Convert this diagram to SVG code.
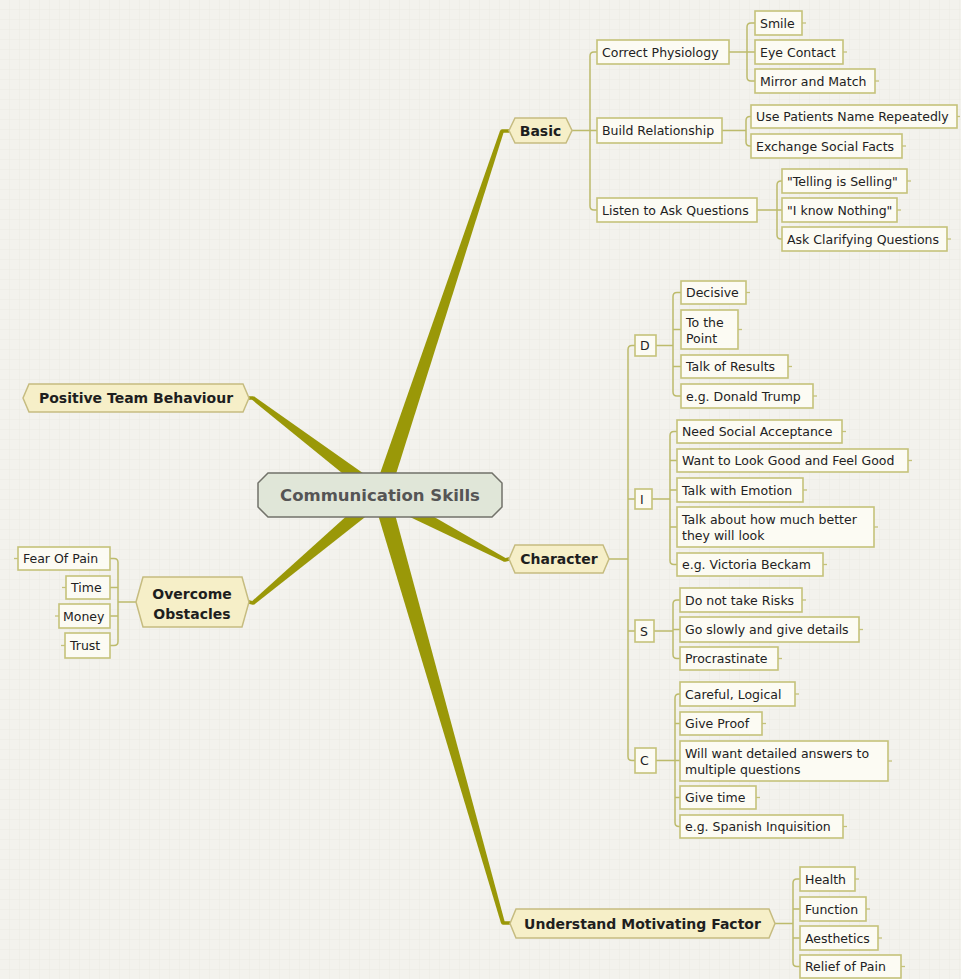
<svg xmlns="http://www.w3.org/2000/svg" width="961" height="979" viewBox="0 0 961 979">
<defs>
<pattern id="grid" width="10" height="10" patternUnits="userSpaceOnUse">
<rect width="10" height="10" fill="#f3f2ed"/>
<path d="M10 0V10M0 10H10" fill="none" stroke="#ebeae3" stroke-width="1"/>
</pattern>
<style>
.thick{fill:#9a9808;stroke:none}
.tend{fill:none;stroke:#9a9808;stroke-width:3.5;stroke-linecap:round}
.bus{fill:none;stroke:#bdbb6c;stroke-width:1.5}
.hex{fill:#f6efc8;stroke:#c6bc80;stroke-width:1.5}
.box{fill:#fcfbf3;stroke:#c5c27a;stroke-width:1.6}
.stub{stroke:#c5c27a;stroke-width:1.3}
.center{fill:#e0e6d8;stroke:#72726a;stroke-width:1.5}
.ct{font-family:"DejaVu Sans",Verdana,sans-serif;font-size:16.5px;font-weight:bold;fill:#555;text-anchor:middle}
.mt{font-family:"DejaVu Sans",Verdana,sans-serif;font-size:14px;font-weight:bold;fill:#1e1e1e;text-anchor:middle}
.st{font-family:"DejaVu Sans",Verdana,sans-serif;font-size:12.5px;fill:#222}
</style>
</defs>
<rect width="961" height="979" fill="url(#grid)"/>

<g id="connectors">
<polygon class="thick" points="388.6,497.5 503.9,131.6 500.1,130.4 373.4,492.5"/>
<path class="tend" d="M502 131H509"/>
<polygon class="thick" points="385.5,489 254.2,396.4 251.8,399.6 376.5,501"/>
<path class="tend" d="M253 398H249"/>
<polygon class="thick" points="377.5,501.6 504.1,561.8 505.9,558.2 384.5,488.4"/>
<path class="tend" d="M505 560L509 559"/>
<polygon class="thick" points="376.2,489.3 251.7,601.5 254.3,604.5 385.8,500.7"/>
<path class="tend" d="M253 603L249 602"/>
<polygon class="thick" points="372.8,497.3 501.1,923.5 504.9,922.5 389.2,492.7"/>
<path class="tend" d="M503 923H510"/>

<path class="bus" d="M572 130.5H597M597 52H594Q590 52 590 56V206Q590 210 594 210H597"/>
<path class="bus" d="M729 52H755M755 23H751Q747 23 747 27V77Q747 81 751 81H755"/>
<path class="bus" d="M722 130.5H746M751 116.5H750Q746 116.5 746 120.5V142Q746 146 750 146H751"/>
<path class="bus" d="M757 210H782M782 181H781Q777 181 777 185V235Q777 239 781 239H782"/>
<path class="bus" d="M609 559H628M635 345.5H632Q628 345.5 628 349.5V756.5Q628 760.5 632 760.5H635M628 499H635M628 631H635"/>
<path class="bus" d="M656 345.5H673M681 292.5H677Q673 292.5 673 296.5V392Q673 396 677 396H681M673 329.5H681M673 366.5H681"/>
<path class="bus" d="M652 499H670M677 431.5H674Q670 431.5 670 435.5V560.5Q670 564.5 674 564.5H677M670 460.5H677M670 490H677M670 527H677"/>
<path class="bus" d="M654 631H673M680 600H677Q673 600 673 604V654.5Q673 658.5 677 658.5H680M673 629.5H680"/>
<path class="bus" d="M656 760.5H680M680 694H679Q675 694 675 698V822.5Q675 826.5 679 826.5H680M675 723.5H680M675 797.5H680"/>
<path class="bus" d="M775 923.5H793M800 879H797Q793 879 793 883V962.5Q793 966.5 797 966.5H800M793 909H800M793 938H800"/>
<path class="bus" d="M136 602H118M110 558.5H114Q118 558.5 118 562.5V641.5Q118 645.5 114 645.5H110M118 587.5H110M118 616H110"/>
</g>

<g id="central">
<polygon class="center" points="268,473 492,473 502,483 502,507 492,517 268,517 258,507 258,483"/>
<text class="ct" x="380" y="501">Communication Skills</text>
</g>

<g id="basic">
<polygon class="hex" points="509,130.5 515,118 566,118 572,130.5 566,143 515,143"/>
<text class="mt" x="540.5" y="135.5">Basic</text>
</g>
<g id="character">
<polygon class="hex" points="509,559 515,545 603,545 609,559 603,573 515,573"/>
<text class="mt" x="559" y="564">Character</text>
</g>
<g id="understand">
<polygon class="hex" points="510,923.5 516,909 769,909 775,923.5 769,938 516,938"/>
<text class="mt" x="642.5" y="929">Understand Motivating Factor</text>
</g>
<g id="positive-team">
<polygon class="hex" points="23,398 29,384 243,384 249,398 243,412 29,412"/>
<text class="mt" x="136" y="403">Positive Team Behaviour</text>
</g>
<g id="overcome">
<polygon class="hex" points="136,602 143,577 242,577 249,602 242,627 143,627"/>
<text class="mt" x="192" y="599">Overcome</text>
<text class="mt" x="192" y="619">Obstacles</text>
</g>

<g id="correct-physiology"><rect class="box" x="597" y="40" width="132" height="24"/><text class="st" x="602" y="56.5">Correct Physiology</text></g>
<g id="build-relationship"><rect class="box" x="597" y="118" width="125" height="25"/><text class="st" x="602" y="135">Build Relationship</text></g>
<g id="listen"><rect class="box" x="597" y="198" width="160" height="24"/><text class="st" x="602" y="214.5">Listen to Ask Questions</text></g>
<g id="smile"><rect class="box" x="755" y="11" width="47" height="24"/><text class="st" x="760" y="27.5">Smile</text><path class="stub" d="M802 23H806"/></g>
<g id="eye-contact"><rect class="box" x="755" y="40" width="88" height="24"/><text class="st" x="760" y="56.5">Eye Contact</text><path class="stub" d="M843 52H847"/></g>
<g id="mirror"><rect class="box" x="755" y="69" width="120" height="24"/><text class="st" x="760" y="85.5">Mirror and Match</text><path class="stub" d="M875 81H879"/></g>
<g id="use-name"><rect class="box" x="751" y="105" width="206" height="23"/><text class="st" x="756" y="121">Use Patients Name Repeatedly</text><path class="stub" d="M957 116.5H960"/></g>
<g id="exchange"><rect class="box" x="751" y="134" width="151" height="24"/><text class="st" x="756" y="150.5">Exchange Social Facts</text><path class="stub" d="M902 146H906"/></g>
<g id="telling"><rect class="box" x="782" y="169" width="125" height="24"/><text class="st" x="787" y="185.5">"Telling is Selling"</text><path class="stub" d="M907 181H911"/></g>
<g id="know-nothing"><rect class="box" x="782" y="198" width="115" height="24"/><text class="st" x="787" y="214.5">"I know Nothing"</text><path class="stub" d="M897 210H901"/></g>
<g id="clarifying"><rect class="box" x="782" y="227" width="165" height="24"/><text class="st" x="787" y="243.5">Ask Clarifying Questions</text><path class="stub" d="M947 239H951"/></g>

<g id="d"><rect class="box" x="635" y="335" width="21" height="21"/><text class="st" x="640" y="350">D</text></g>
<g id="i"><rect class="box" x="635" y="489" width="17" height="20"/><text class="st" x="640" y="504">I</text></g>
<g id="s"><rect class="box" x="635" y="620" width="19" height="22"/><text class="st" x="640" y="635.5">S</text></g>
<g id="c"><rect class="box" x="635" y="748" width="21" height="25"/><text class="st" x="640" y="765">C</text></g>

<g id="decisive"><rect class="box" x="681" y="281" width="65" height="23"/><text class="st" x="686" y="297">Decisive</text><path class="stub" d="M746 292.5H750"/></g>
<g id="to-the-point"><rect class="box" x="681" y="310" width="57" height="39"/><text class="st" x="686" y="326.5">To the</text><text class="st" x="686" y="343">Point</text><path class="stub" d="M738 329.5H742"/></g>
<g id="talk-results"><rect class="box" x="681" y="355" width="107" height="23"/><text class="st" x="686" y="371">Talk of Results</text><path class="stub" d="M788 366.5H792"/></g>
<g id="trump"><rect class="box" x="681" y="384" width="132" height="24"/><text class="st" x="686" y="400.5">e.g. Donald Trump</text><path class="stub" d="M813 396H817"/></g>

<g id="social-acceptance"><rect class="box" x="677" y="420" width="165" height="23"/><text class="st" x="682" y="436">Need Social Acceptance</text><path class="stub" d="M842 431.5H846"/></g>
<g id="look-good"><rect class="box" x="677" y="449" width="231" height="23"/><text class="st" x="682" y="465">Want to Look Good and Feel Good</text><path class="stub" d="M908 460.5H912"/></g>
<g id="talk-emotion"><rect class="box" x="677" y="478" width="126" height="24"/><text class="st" x="682" y="494.5">Talk with Emotion</text><path class="stub" d="M803 490H807"/></g>
<g id="talk-better"><rect class="box" x="677" y="507" width="197" height="40"/><text class="st" x="682" y="523.5">Talk about how much better</text><text class="st" x="682" y="540">they will look</text><path class="stub" d="M874 527H878"/></g>
<g id="beckam"><rect class="box" x="677" y="553" width="146" height="23"/><text class="st" x="682" y="569">e.g. Victoria Beckam</text><path class="stub" d="M823 564.5H827"/></g>

<g id="risks"><rect class="box" x="680" y="588" width="122" height="24"/><text class="st" x="685" y="604.5">Do not take Risks</text><path class="stub" d="M802 600H806"/></g>
<g id="go-slowly"><rect class="box" x="680" y="617" width="179" height="25"/><text class="st" x="685" y="634">Go slowly and give details</text><path class="stub" d="M859 629.5H863"/></g>
<g id="procrastinate"><rect class="box" x="680" y="647" width="98" height="23"/><text class="st" x="685" y="663">Procrastinate</text><path class="stub" d="M778 658.5H782"/></g>

<g id="careful"><rect class="box" x="680" y="682" width="115" height="24"/><text class="st" x="685" y="698.5">Careful, Logical</text><path class="stub" d="M795 694H799"/></g>
<g id="give-proof"><rect class="box" x="680" y="712" width="82" height="23"/><text class="st" x="685" y="728">Give Proof</text><path class="stub" d="M762 723.5H766"/></g>
<g id="detailed"><rect class="box" x="680" y="741" width="208" height="40"/><text class="st" x="685" y="757.5">Will want detailed answers to</text><text class="st" x="685" y="774">multiple questions</text><path class="stub" d="M888 761H892"/></g>
<g id="give-time"><rect class="box" x="680" y="786" width="76" height="23"/><text class="st" x="685" y="802">Give time</text><path class="stub" d="M756 797.5H760"/></g>
<g id="spanish"><rect class="box" x="680" y="815" width="163" height="23"/><text class="st" x="685" y="831">e.g. Spanish Inquisition</text><path class="stub" d="M843 826.5H847"/></g>

<g id="health"><rect class="box" x="800" y="867" width="55" height="24"/><text class="st" x="805" y="883.5">Health</text><path class="stub" d="M855 879H859"/></g>
<g id="function"><rect class="box" x="800" y="897" width="66" height="24"/><text class="st" x="805" y="913.5">Function</text><path class="stub" d="M866 909H870"/></g>
<g id="aesthetics"><rect class="box" x="800" y="926" width="78" height="24"/><text class="st" x="805" y="942.5">Aesthetics</text><path class="stub" d="M878 938H882"/></g>
<g id="relief"><rect class="box" x="800" y="955" width="101" height="23"/><text class="st" x="805" y="971">Relief of Pain</text><path class="stub" d="M901 966.5H905"/></g>

<g id="fear"><rect class="box" x="18" y="547" width="92" height="23"/><text class="st" x="23" y="563">Fear Of Pain</text><path class="stub" d="M18 558.5H14"/></g>
<g id="time"><rect class="box" x="66" y="576" width="44" height="23"/><text class="st" x="71" y="592">Time</text><path class="stub" d="M66 587.5H62"/></g>
<g id="money"><rect class="box" x="59" y="604" width="51" height="24"/><text class="st" x="63" y="620.5">Money</text><path class="stub" d="M59 616H55"/></g>
<g id="trust"><rect class="box" x="65" y="633" width="45" height="25"/><text class="st" x="70" y="650">Trust</text><path class="stub" d="M65 645.5H61"/></g>
</svg>
